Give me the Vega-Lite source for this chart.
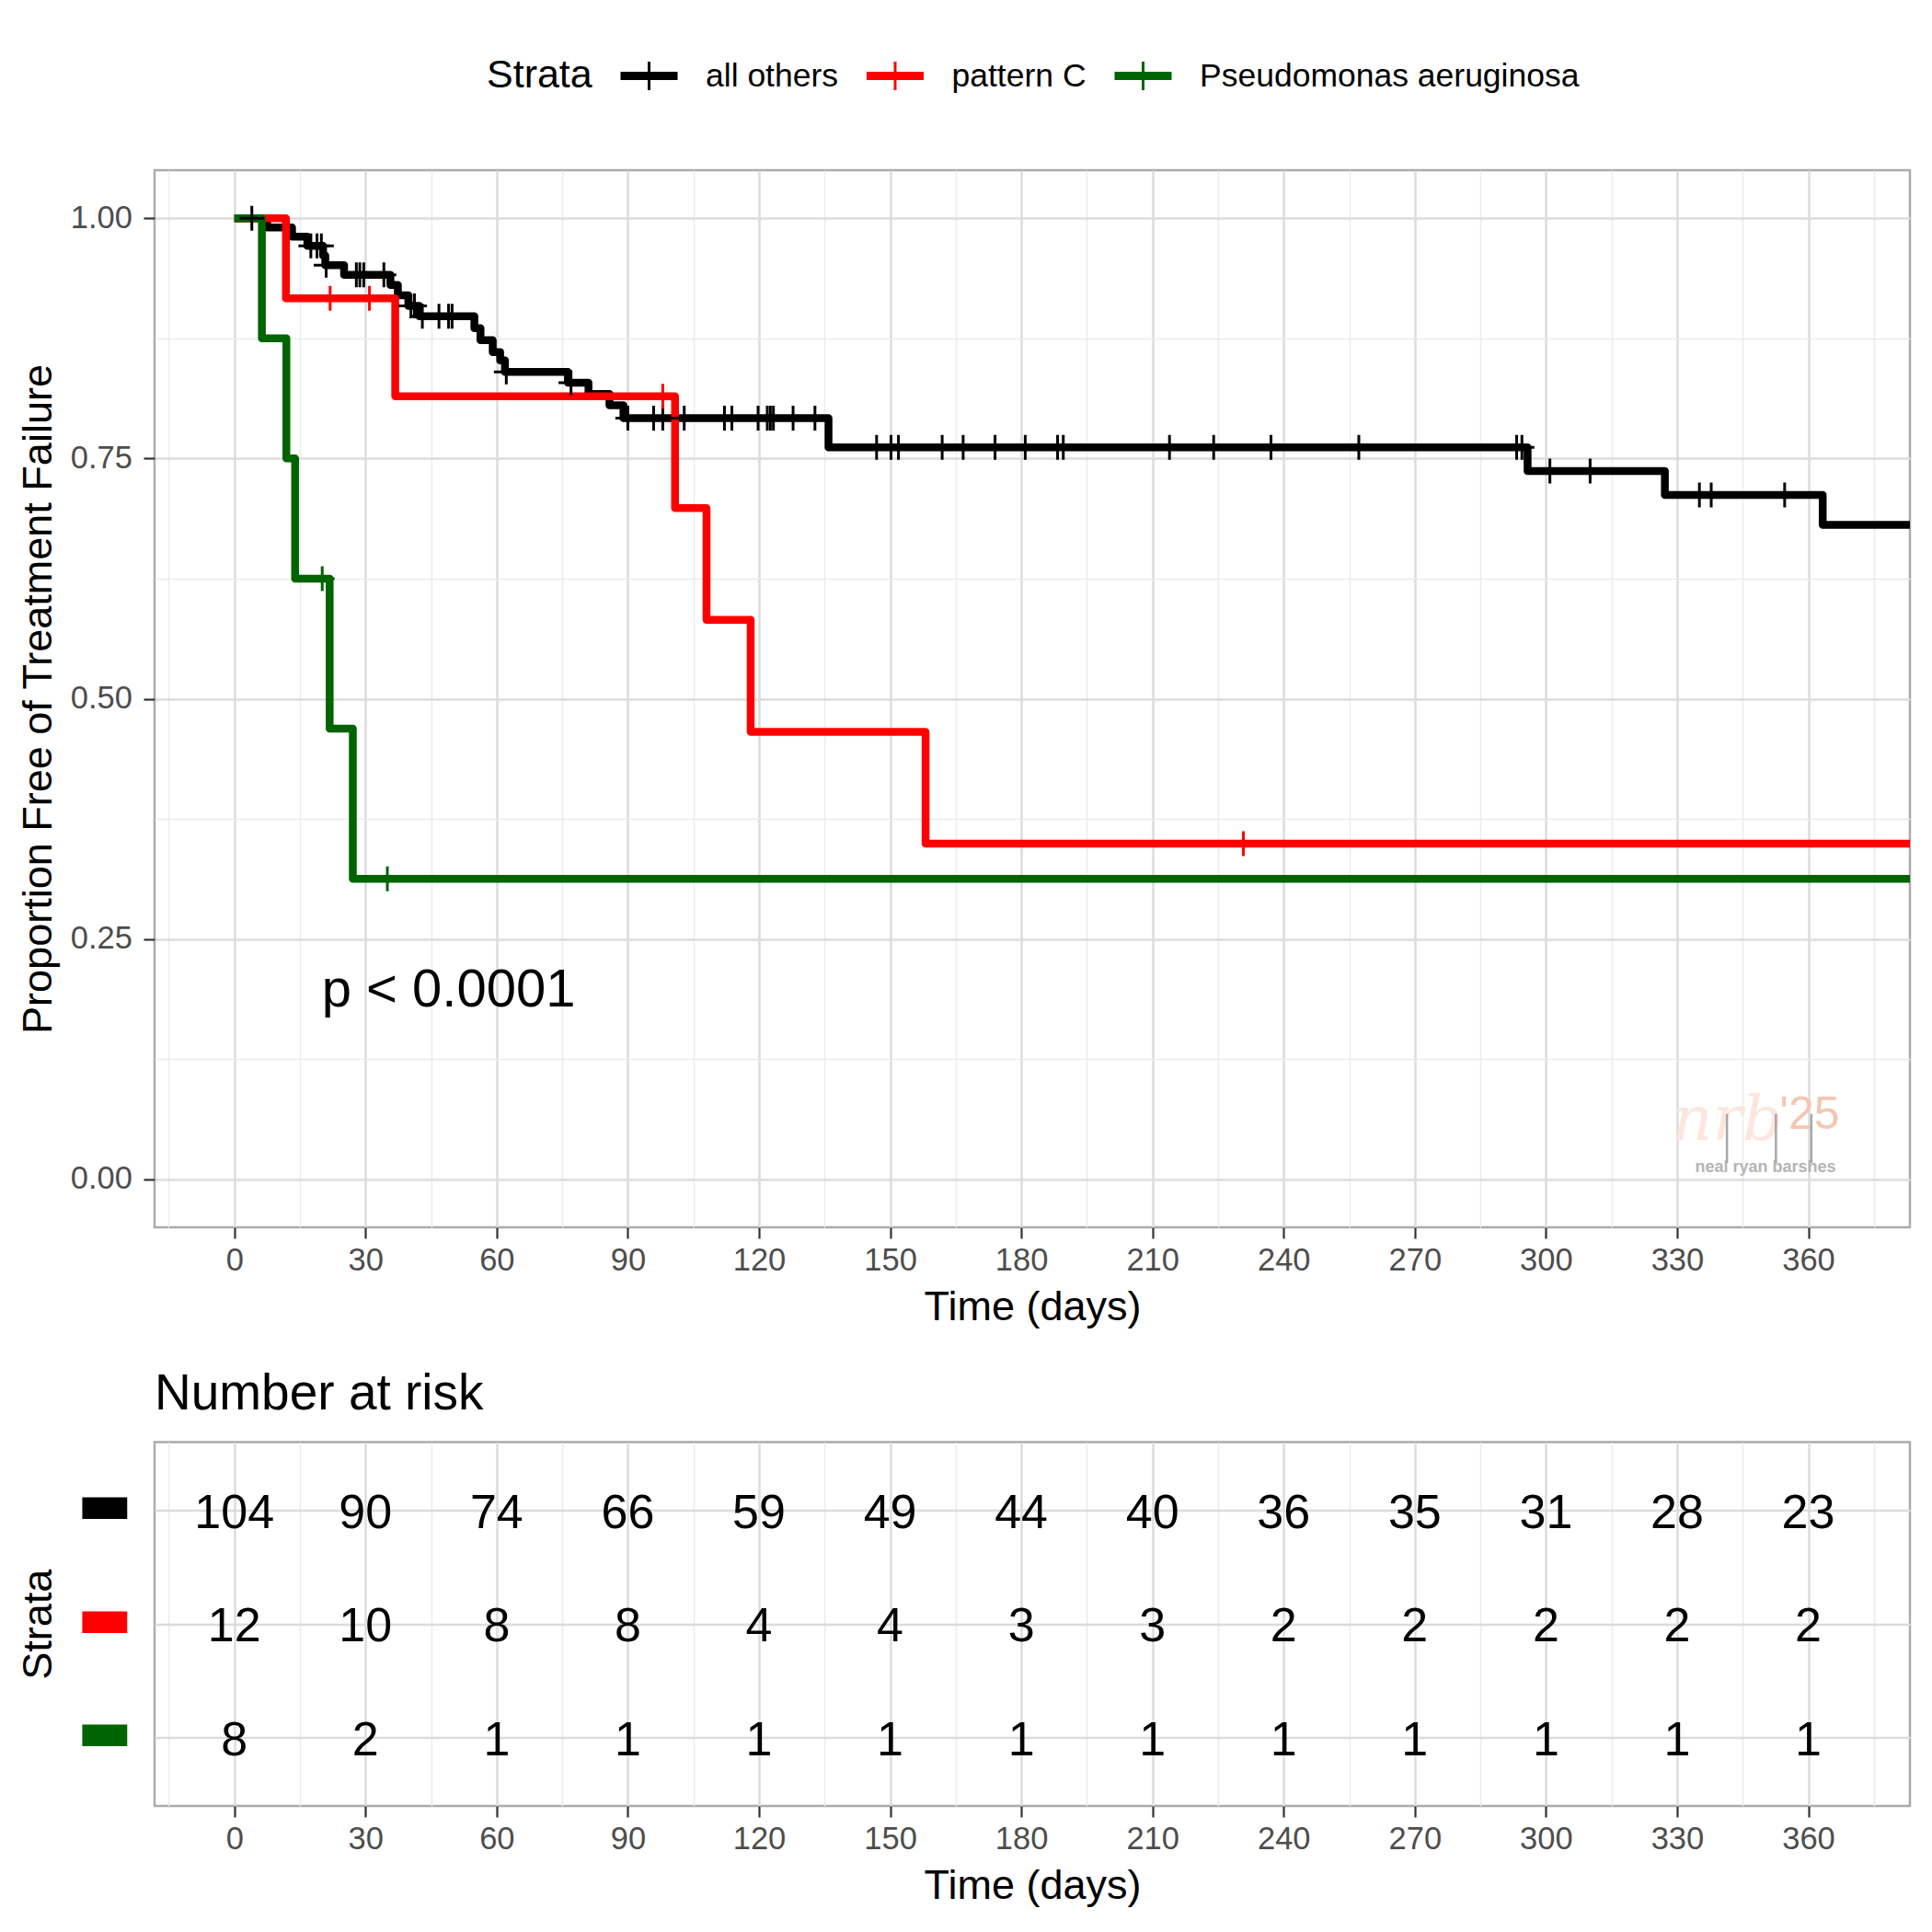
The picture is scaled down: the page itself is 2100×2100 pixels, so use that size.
{
  "$schema": "https://vega.github.io/schema/vega-lite/v6.json",
  "background": "white",
  "padding": {"left": 17, "top": 50, "right": 21, "bottom": 10},
  "bounds": "flush",
  "spacing": 233.6,
  "config": {
    "font": "Liberation Sans",
    "view": {"stroke": "#ABABAB", "strokeWidth": 2.5},
    "axis": {
      "domain": false,
      "tickColor": "#333333",
      "tickWidth": 2.2,
      "tickSize": 12,
      "labelColor": "#4D4D4D",
      "labelFont": "Liberation Sans",
      "labelFontSize": 34.5,
      "labelOverlap": false,
      "labelFlush": false,
      "labelBound": false,
      "titleFont": "Liberation Sans",
      "titleFontSize": 45,
      "titleFontWeight": "normal",
      "titleColor": "#000000",
      "gridColor": "#DCDCDC",
      "gridWidth": 2.5
    }
  },
  "datasets": {
    "km": [
      {"strata": "all others", "time": 0, "surv": 1.0},
      {"strata": "all others", "time": 7.5, "surv": 0.9904},
      {"strata": "all others", "time": 13.2, "surv": 0.9808},
      {"strata": "all others", "time": 16.7, "surv": 0.9712},
      {"strata": "all others", "time": 20.3, "surv": 0.9612},
      {"strata": "all others", "time": 20.8, "surv": 0.9511},
      {"strata": "all others", "time": 25.1, "surv": 0.9410},
      {"strata": "all others", "time": 35.7, "surv": 0.9305},
      {"strata": "all others", "time": 37.4, "surv": 0.9197},
      {"strata": "all others", "time": 39.8, "surv": 0.9088},
      {"strata": "all others", "time": 42.3, "surv": 0.8980},
      {"strata": "all others", "time": 54.9, "surv": 0.8856},
      {"strata": "all others", "time": 56.3, "surv": 0.8732},
      {"strata": "all others", "time": 59.1, "surv": 0.8608},
      {"strata": "all others", "time": 60.8, "surv": 0.8520},
      {"strata": "all others", "time": 61.9, "surv": 0.8400},
      {"strata": "all others", "time": 76.3, "surv": 0.8289},
      {"strata": "all others", "time": 81.0, "surv": 0.8172},
      {"strata": "all others", "time": 85.8, "surv": 0.8055},
      {"strata": "all others", "time": 89.0, "surv": 0.7920},
      {"strata": "all others", "time": 135.9, "surv": 0.7615},
      {"strata": "all others", "time": 295.8, "surv": 0.7370},
      {"strata": "all others", "time": 327.2, "surv": 0.7120},
      {"strata": "all others", "time": 363.3, "surv": 0.6810},
      {"strata": "all others", "time": 390, "surv": 0.6810},
      {"strata": "pattern C", "time": 0, "surv": 1.0},
      {"strata": "pattern C", "time": 11.8, "surv": 0.9167},
      {"strata": "pattern C", "time": 36.8, "surv": 0.8148},
      {"strata": "pattern C", "time": 100.8, "surv": 0.6984},
      {"strata": "pattern C", "time": 108.0, "surv": 0.5820},
      {"strata": "pattern C", "time": 118.1, "surv": 0.4656},
      {"strata": "pattern C", "time": 158.1, "surv": 0.3492},
      {"strata": "pattern C", "time": 390, "surv": 0.3492},
      {"strata": "Pseudomonas aeruginosa", "time": 0, "surv": 1.0},
      {"strata": "Pseudomonas aeruginosa", "time": 6.3, "surv": 0.875},
      {"strata": "Pseudomonas aeruginosa", "time": 11.9, "surv": 0.75},
      {"strata": "Pseudomonas aeruginosa", "time": 13.9, "surv": 0.625},
      {"strata": "Pseudomonas aeruginosa", "time": 21.8, "surv": 0.4688},
      {"strata": "Pseudomonas aeruginosa", "time": 27.1, "surv": 0.3125},
      {"strata": "Pseudomonas aeruginosa", "time": 390, "surv": 0.3125}
    ],
    "censor": [
      {"strata": "all others", "time": 4.0, "surv": 1.0},
      {"strata": "all others", "time": 17.5, "surv": 0.9712},
      {"strata": "all others", "time": 18.9, "surv": 0.9712},
      {"strata": "all others", "time": 19.9, "surv": 0.9712},
      {"strata": "all others", "time": 21.0, "surv": 0.9511},
      {"strata": "all others", "time": 27.9, "surv": 0.9410},
      {"strata": "all others", "time": 28.7, "surv": 0.9410},
      {"strata": "all others", "time": 29.6, "surv": 0.9410},
      {"strata": "all others", "time": 34.2, "surv": 0.9410},
      {"strata": "all others", "time": 40.4, "surv": 0.9088},
      {"strata": "all others", "time": 41.2, "surv": 0.9088},
      {"strata": "all others", "time": 43.0, "surv": 0.8980},
      {"strata": "all others", "time": 46.8, "surv": 0.8980},
      {"strata": "all others", "time": 49.0, "surv": 0.8980},
      {"strata": "all others", "time": 49.8, "surv": 0.8980},
      {"strata": "all others", "time": 62.2, "surv": 0.8400},
      {"strata": "all others", "time": 77.0, "surv": 0.8289},
      {"strata": "all others", "time": 90.0, "surv": 0.7920},
      {"strata": "all others", "time": 95.9, "surv": 0.7920},
      {"strata": "all others", "time": 98.0, "surv": 0.7920},
      {"strata": "all others", "time": 102.9, "surv": 0.7920},
      {"strata": "all others", "time": 112.1, "surv": 0.7920},
      {"strata": "all others", "time": 113.8, "surv": 0.7920},
      {"strata": "all others", "time": 119.8, "surv": 0.7920},
      {"strata": "all others", "time": 121.9, "surv": 0.7920},
      {"strata": "all others", "time": 122.6, "surv": 0.7920},
      {"strata": "all others", "time": 123.3, "surv": 0.7920},
      {"strata": "all others", "time": 127.8, "surv": 0.7920},
      {"strata": "all others", "time": 132.8, "surv": 0.7920},
      {"strata": "all others", "time": 146.9, "surv": 0.7615},
      {"strata": "all others", "time": 150.2, "surv": 0.7615},
      {"strata": "all others", "time": 151.9, "surv": 0.7615},
      {"strata": "all others", "time": 161.9, "surv": 0.7615},
      {"strata": "all others", "time": 166.7, "surv": 0.7615},
      {"strata": "all others", "time": 174.0, "surv": 0.7615},
      {"strata": "all others", "time": 180.9, "surv": 0.7615},
      {"strata": "all others", "time": 188.3, "surv": 0.7615},
      {"strata": "all others", "time": 189.6, "surv": 0.7615},
      {"strata": "all others", "time": 213.9, "surv": 0.7615},
      {"strata": "all others", "time": 224.0, "surv": 0.7615},
      {"strata": "all others", "time": 237.1, "surv": 0.7615},
      {"strata": "all others", "time": 257.2, "surv": 0.7615},
      {"strata": "all others", "time": 293.3, "surv": 0.7615},
      {"strata": "all others", "time": 294.5, "surv": 0.7615},
      {"strata": "all others", "time": 300.9, "surv": 0.7370},
      {"strata": "all others", "time": 310.1, "surv": 0.7370},
      {"strata": "all others", "time": 335.1, "surv": 0.7120},
      {"strata": "all others", "time": 337.8, "surv": 0.7120},
      {"strata": "all others", "time": 354.6, "surv": 0.7120},
      {"strata": "pattern C", "time": 21.9, "surv": 0.9167},
      {"strata": "pattern C", "time": 30.9, "surv": 0.9167},
      {"strata": "pattern C", "time": 98.0, "surv": 0.8148},
      {"strata": "pattern C", "time": 230.8, "surv": 0.3492},
      {"strata": "Pseudomonas aeruginosa", "time": 20.1, "surv": 0.625},
      {"strata": "Pseudomonas aeruginosa", "time": 35.0, "surv": 0.3125}
    ],
    "risk": [
      {"strata": "all others", "time": 0, "n": 104},
      {"strata": "all others", "time": 30, "n": 90},
      {"strata": "all others", "time": 60, "n": 74},
      {"strata": "all others", "time": 90, "n": 66},
      {"strata": "all others", "time": 120, "n": 59},
      {"strata": "all others", "time": 150, "n": 49},
      {"strata": "all others", "time": 180, "n": 44},
      {"strata": "all others", "time": 210, "n": 40},
      {"strata": "all others", "time": 240, "n": 36},
      {"strata": "all others", "time": 270, "n": 35},
      {"strata": "all others", "time": 300, "n": 31},
      {"strata": "all others", "time": 330, "n": 28},
      {"strata": "all others", "time": 360, "n": 23},
      {"strata": "pattern C", "time": 0, "n": 12},
      {"strata": "pattern C", "time": 30, "n": 10},
      {"strata": "pattern C", "time": 60, "n": 8},
      {"strata": "pattern C", "time": 90, "n": 8},
      {"strata": "pattern C", "time": 120, "n": 4},
      {"strata": "pattern C", "time": 150, "n": 4},
      {"strata": "pattern C", "time": 180, "n": 3},
      {"strata": "pattern C", "time": 210, "n": 3},
      {"strata": "pattern C", "time": 240, "n": 2},
      {"strata": "pattern C", "time": 270, "n": 2},
      {"strata": "pattern C", "time": 300, "n": 2},
      {"strata": "pattern C", "time": 330, "n": 2},
      {"strata": "pattern C", "time": 360, "n": 2},
      {"strata": "Pseudomonas aeruginosa", "time": 0, "n": 8},
      {"strata": "Pseudomonas aeruginosa", "time": 30, "n": 2},
      {"strata": "Pseudomonas aeruginosa", "time": 60, "n": 1},
      {"strata": "Pseudomonas aeruginosa", "time": 90, "n": 1},
      {"strata": "Pseudomonas aeruginosa", "time": 120, "n": 1},
      {"strata": "Pseudomonas aeruginosa", "time": 150, "n": 1},
      {"strata": "Pseudomonas aeruginosa", "time": 180, "n": 1},
      {"strata": "Pseudomonas aeruginosa", "time": 210, "n": 1},
      {"strata": "Pseudomonas aeruginosa", "time": 240, "n": 1},
      {"strata": "Pseudomonas aeruginosa", "time": 270, "n": 1},
      {"strata": "Pseudomonas aeruginosa", "time": 300, "n": 1},
      {"strata": "Pseudomonas aeruginosa", "time": 330, "n": 1},
      {"strata": "Pseudomonas aeruginosa", "time": 360, "n": 1}
    ]
  },
  "vconcat": [
    {
      "width": 1908,
      "height": 1149,
      "layer": [
        {
          "data": {"name": "km"},
          "mark": {"type": "line", "interpolate": "step-after", "strokeWidth": 8.5, "strokeJoin": "round", "strokeCap": "butt", "clip": true},
          "encoding": {
            "x": {
              "field": "time", "type": "quantitative",
              "scale": {"domain": [-18.25, 383.25], "nice": false, "zero": false},
              "axis": {"values": [0, 30, 60, 90, 120, 150, 180, 210, 240, 270, 300, 330, 360], "title": "Time (days)", "titleY": 86.6, "titleBaseline": "middle", "labelPadding": 7.5, "grid": true}
            },
            "y": {
              "field": "surv", "type": "quantitative",
              "scale": {"domain": [-0.05, 1.05], "nice": false, "zero": false},
              "axis": {"values": [0, 0.25, 0.5, 0.75, 1], "format": ".2f", "title": "Proportion Free of Treatment Failure", "titleX": -127, "titleBaseline": "middle", "labelPadding": 12.6, "grid": true}
            },
            "color": {
              "field": "strata", "type": "nominal",
              "scale": {"domain": ["all others", "pattern C", "Pseudomonas aeruginosa"], "range": ["#000000", "#FF0000", "#006400"]},
              "legend": {
                "title": "Strata", "orient": "none", "legendX": 361, "legendY": -135, "direction": "horizontal",
                "titleOrient": "left", "titleFontSize": 43, "titleFontWeight": "normal", "titleColor": "#000000", "titleFont": "Liberation Sans",
                "titlePadding": 29, "titleBaseline": "line-top", "titleLineHeight": 11.6, "titleAnchor": "middle",
                "labelFontSize": 35.5, "labelColor": "#000000", "labelFont": "Liberation Sans", "labelOffset": 29, "columnPadding": 23.5, "labelLimit": 1000,
                "symbolType": "M-1,-0.1H1M-1,0H1M-1,0.1H1M0,-0.5V0.5", "symbolSize": 3844, "symbolStrokeWidth": 3, "symbolOpacity": 1, "padding": 0
              }
            }
          }
        },
        {
          "data": {"name": "censor"},
          "mark": {"type": "point", "shape": "M-1,0H1M0,-1V1", "filled": false, "strokeWidth": 3, "size": 730, "opacity": 1, "clip": true},
          "encoding": {
            "x": {
              "field": "time", "type": "quantitative",
              "axis": {"values": [-15, 15, 45, 75, 105, 135, 165, 195, 225, 255, 285, 315, 345, 375], "labels": false, "ticks": false, "title": null, "grid": true, "gridColor": "#EBEBEB", "gridWidth": 1.4}
            },
            "y": {
              "field": "surv", "type": "quantitative",
              "axis": {"values": [0.125, 0.375, 0.625, 0.875], "labels": false, "ticks": false, "title": null, "grid": true, "gridColor": "#EBEBEB", "gridWidth": 1.4}
            },
            "color": {"field": "strata", "type": "nominal"}
          }
        },
        {
          "data": {"values": [{}]},
          "mark": {"type": "text", "fontSize": 58, "font": "Liberation Sans", "color": "#000000", "align": "center", "baseline": "middle"},
          "encoding": {
            "x": {"datum": 49, "type": "quantitative", "axis": null},
            "y": {"datum": 0.196, "type": "quantitative", "axis": null},
            "text": {"value": "p < 0.0001"}
          }
        },
        {
          "data": {"values": [{}]},
          "mark": {"type": "text", "fontSize": 68, "font": "DejaVu Serif", "fontStyle": "italic", "color": "#FCE6DD", "align": "center", "baseline": "alphabetic"},
          "encoding": {
            "x": {"datum": 341.5, "type": "quantitative", "axis": null},
            "y": {"datum": 0.041, "type": "quantitative", "axis": null},
            "text": {"value": "nrb"}
          }
        },
        {
          "data": {"values": [{}]},
          "mark": {"type": "text", "fontSize": 50, "font": "Liberation Sans", "color": "#F5C6B0", "align": "center", "baseline": "alphabetic"},
          "encoding": {
            "x": {"datum": 360.3, "type": "quantitative", "axis": null},
            "y": {"datum": 0.052, "type": "quantitative", "axis": null},
            "text": {"value": "'25"}
          }
        },
        {
          "data": {"values": [{}]},
          "mark": {"type": "text", "fontSize": 18, "font": "Liberation Sans", "fontWeight": "bold", "color": "#B5B5B5", "align": "center", "baseline": "alphabetic"},
          "encoding": {
            "x": {"datum": 350.2, "type": "quantitative", "axis": null},
            "y": {"datum": 0.0074, "type": "quantitative", "axis": null},
            "text": {"value": "neal ryan barshes"}
          }
        },
        {
          "data": {"values": [{}]},
          "mark": {"type": "rule", "color": "#A8A8A8", "strokeWidth": 2.5},
          "encoding": {
            "x": {"datum": 341.4, "type": "quantitative", "axis": null},
            "y": {"datum": 0.068, "type": "quantitative", "axis": null},
            "y2": {"datum": 0.017}
          }
        },
        {
          "data": {"values": [{}]},
          "mark": {"type": "rule", "color": "#A8A8A8", "strokeWidth": 2.5},
          "encoding": {
            "x": {"datum": 352.6, "type": "quantitative", "axis": null},
            "y": {"datum": 0.068, "type": "quantitative", "axis": null},
            "y2": {"datum": 0.017}
          }
        },
        {
          "data": {"values": [{}]},
          "mark": {"type": "rule", "color": "#A8A8A8", "strokeWidth": 2.5},
          "encoding": {
            "x": {"datum": 360.7, "type": "quantitative", "axis": null},
            "y": {"datum": 0.068, "type": "quantitative", "axis": null},
            "y2": {"datum": 0.017}
          }
        }
      ],
      "resolve": {"axis": {"x": "independent", "y": "independent"}}
    },
    {
      "width": 1908,
      "height": 395.4,
      "title": {"text": "Number at risk", "anchor": "start", "frame": "group", "fontSize": 55, "fontWeight": "normal", "color": "#000000", "font": "Liberation Sans", "baseline": "alphabetic", "offset": -19.4},
      "data": {"name": "risk"},
      "layer": [
        {
          "mark": {"type": "text", "fontSize": 52, "font": "Liberation Sans", "color": "#000000", "baseline": "middle", "dy": 3},
          "encoding": {
            "x": {
              "field": "time", "type": "quantitative",
              "scale": {"domain": [-18.25, 383.25], "nice": false, "zero": false},
              "axis": {"values": [0, 30, 60, 90, 120, 150, 180, 210, 240, 270, 300, 330, 360], "title": "Time (days)", "titleY": 86.6, "titleBaseline": "middle", "labelPadding": 7.5, "grid": true}
            },
            "y": {
              "field": "strata", "type": "nominal",
              "scale": {"domain": ["all others", "pattern C", "Pseudomonas aeruginosa"], "padding": 0.6},
              "axis": {
                "title": "Strata", "titleX": -127, "titleBaseline": "middle",
                "labelExpr": "'▬'", "labelFont": "DejaVu Sans", "labelFontSize": 64, "labelOffset": -5,
                "labelColor": {"condition": [{"test": "datum.value === 'all others'", "value": "#000000"}, {"test": "datum.value === 'pattern C'", "value": "#FF0000"}], "value": "#006400"},
                "ticks": false, "tickSize": 0, "labelPadding": 24.6, "grid": true
              }
            },
            "text": {"field": "n", "type": "quantitative"}
          }
        },
        {
          "mark": {"type": "text", "opacity": 0},
          "encoding": {
            "x": {
              "field": "time", "type": "quantitative",
              "axis": {"values": [-15, 15, 45, 75, 105, 135, 165, 195, 225, 255, 285, 315, 345, 375], "labels": false, "ticks": false, "title": null, "grid": true, "gridColor": "#EBEBEB", "gridWidth": 1.4}
            },
            "y": {"field": "strata", "type": "nominal", "axis": null},
            "text": {"field": "n", "type": "quantitative"}
          }
        }
      ],
      "resolve": {"axis": {"x": "independent", "y": "independent"}}
    }
  ]
}
